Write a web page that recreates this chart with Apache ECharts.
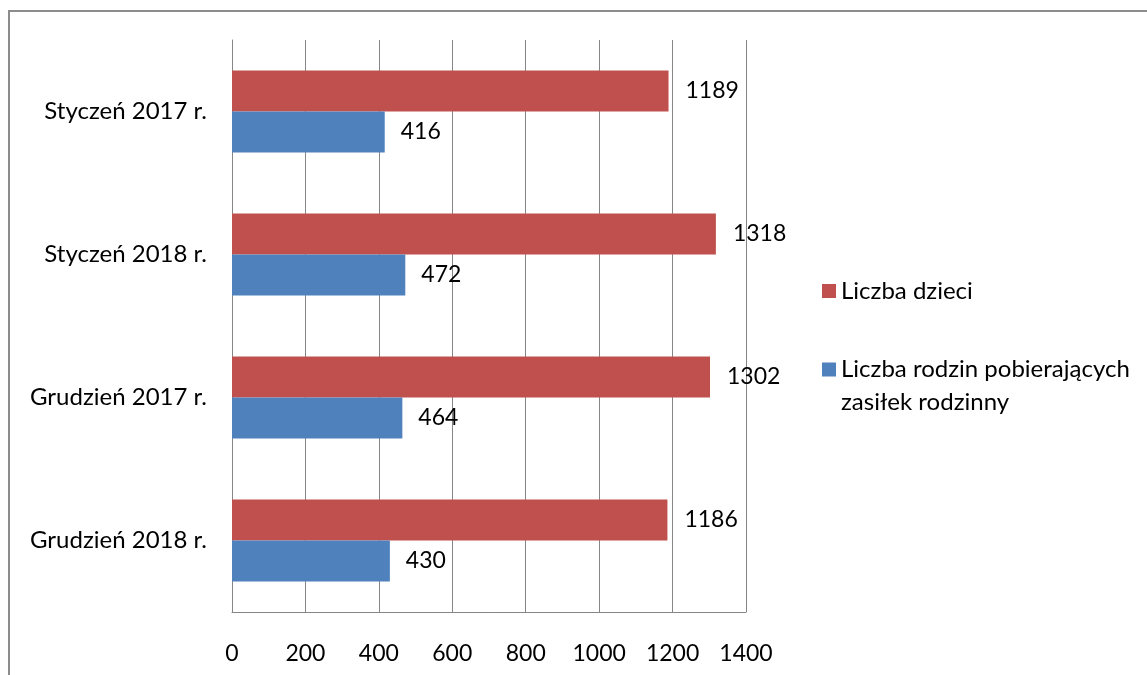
<!DOCTYPE html>
<html>
<head>
<meta charset="utf-8">
<script src="https://cdn.jsdelivr.net/npm/echarts@6/dist/echarts.min.js"></script>
<style>
html,body{margin:0;padding:0;background:#fff;}
#chart{width:1147px;height:675px;}
</style>
</head>
<body>
<div id="chart"></div>
<script>
const categories = ['Styczeń 2017 r.', 'Styczeń 2018 r.', 'Grudzień 2017 r.', 'Grudzień 2018 r.'];
const seriesNames = ['Liczba dzieci', 'Liczba rodzin pobierających zasiłek rodzinny'];
const dzieci = [1189, 1318, 1302, 1186];
const rodziny = [416, 472, 464, 430];
const xTicks = [0, 200, 400, 600, 800, 1000, 1200, 1400];

const FONT = 'Lato';
const chart = echarts.init(document.getElementById('chart'));
const grid = '#868686';
chart.setOption({
  backgroundColor: '#fff',
  animation: false,
  textStyle: { fontFamily: FONT, color: '#000' },
  grid: { left: 232, right: 401, top: 40, bottom: 63, containLabel: false },
  xAxis: {
    type: 'value', min: xTicks[0], max: xTicks[xTicks.length - 1], interval: 200,
    axisLine: { show: true, lineStyle: { color: grid, width: 1 } },
    axisTick: { show: false },
    splitLine: { show: true, lineStyle: { color: grid, width: 1 } },
    axisLabel: { fontFamily: FONT, fontSize: 23, color: '#000', margin: 30,
      formatter: function (v) { return String(v); } }
  },
  yAxis: {
    type: 'category', data: categories, inverse: true,
    axisLine: { show: true, lineStyle: { color: grid, width: 1 } },
    axisTick: { show: false },
    axisLabel: { fontFamily: FONT, fontSize: 24, color: '#000', margin: 25 }
  },
  legend: [
    {
      orient: 'vertical', left: 817, top: 273, itemWidth: 14, itemHeight: 14,
      icon: 'rect', data: [seriesNames[0]],
      textStyle: { fontFamily: FONT, fontSize: 24, color: '#000', lineHeight: 26 }
    },
    {
      orient: 'vertical', left: 817, top: 315, itemWidth: 14, itemHeight: 14,
      icon: 'rect', data: [seriesNames[1]],
      formatter: function () { return ' \nLiczba rodzin pobierających\nzasiłek rodzinny'; },
      textStyle: { fontFamily: FONT, fontSize: 24, color: '#000', lineHeight: 33 }
    }
  ],
  graphic: [{
    type: 'rect', silent: true,
    shape: { x: 9, y: 11, width: 1300, height: 800 },
    style: { fill: 'none', stroke: '#8c8c8c', lineWidth: 2 }
  }],
  series: [
    {
      name: seriesNames[0], type: 'bar', data: dzieci, barWidth: 41, barGap: '0%',
      itemStyle: { color: '#C0504D' },
      label: { show: true, position: 'right', distance: 17, fontFamily: FONT, fontSize: 23, color: '#000' }
    },
    {
      name: seriesNames[1], type: 'bar', data: rodziny, barWidth: 41, barGap: '0%',
      itemStyle: { color: '#4F81BD' },
      label: { show: true, position: 'right', distance: 16, fontFamily: FONT, fontSize: 23, color: '#000' }
    }
  ]
});
</script>
</body>
</html>
